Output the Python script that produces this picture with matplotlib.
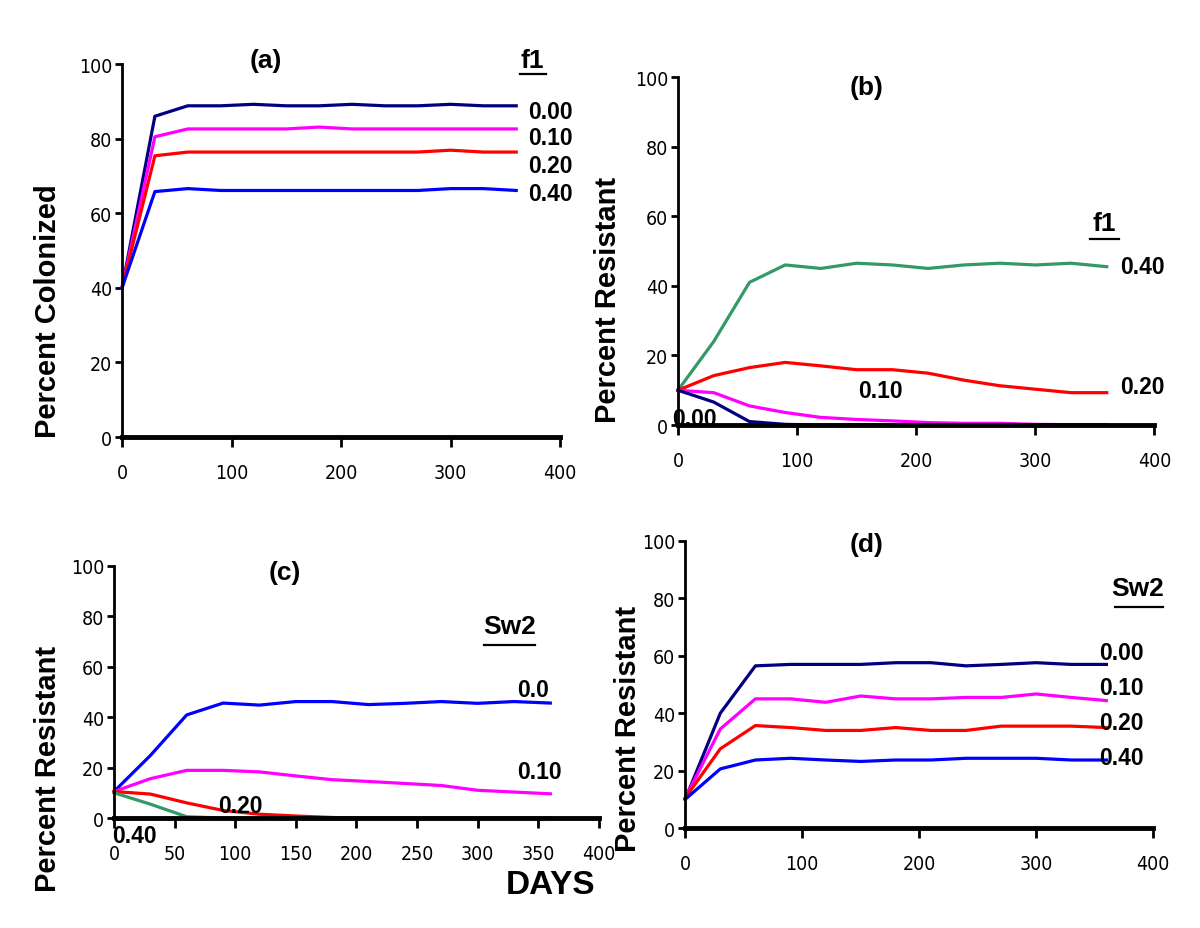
import matplotlib
matplotlib.use("Agg")
import matplotlib.pyplot as plt

plt.rcParams['font.family'] = ['Liberation Sans', 'DejaVu Sans']

NAVY = '#000080'
MAGENTA = '#FF00FF'
RED = '#FF0000'
BLUE = '#0000FF'
GREEN = '#339966'

days = [0, 30, 60, 90, 120, 150, 180, 210, 240, 270, 300, 330, 360]

# (a) percent colonized, by f1
a_f1_000 = [40, 86, 88.8, 88.8, 89.2, 88.8, 88.8, 89.2, 88.8, 88.8, 89.2, 88.8, 88.8]
a_f1_010 = [40, 80.5, 82.6, 82.6, 82.6, 82.6, 83.1, 82.6, 82.6, 82.6, 82.6, 82.6, 82.6]
a_f1_020 = [40, 75.4, 76.4, 76.4, 76.4, 76.4, 76.4, 76.4, 76.4, 76.4, 76.9, 76.4, 76.4]
a_f1_040 = [40, 65.8, 66.6, 66.1, 66.1, 66.1, 66.1, 66.1, 66.1, 66.1, 66.6, 66.6, 66.1]

# (b) percent resistant, by f1
b_f1_040 = [10, 24, 41, 46, 45, 46.5, 46, 45, 46, 46.5, 46, 46.5, 45.5]
b_f1_020 = [10, 14.2, 16.5, 18, 17, 15.9, 15.9, 14.9, 12.9, 11.3, 10.3, 9.3, 9.3]
b_f1_010 = [10, 9.3, 5.5, 3.6, 2.2, 1.6, 1.2, 0.7, 0.5, 0.5, 0.2, 0.1, 0]
b_f1_000 = [10, 6.6, 1, 0.2, 0, 0, 0, 0, 0, 0, 0, 0, 0]

# (c) percent resistant, by Sw2
c_sw2_00 = [10.5, 24.8, 40.9, 45.6, 44.8, 46.2, 46.2, 45, 45.5, 46.2, 45.5, 46.2, 45.6]
c_sw2_010 = [10.5, 15.6, 18.9, 18.9, 18.3, 16.7, 15.2, 14.5, 13.7, 12.9, 11, 10.3, 9.6]
c_sw2_020 = [10.5, 9.5, 6, 3, 1.5, 0.8, 0.2, 0, 0, 0, 0, 0, 0]
c_sw2_040 = [10, 5.5, 0.5, 0, 0, 0, 0, 0, 0, 0, 0, 0, 0]

# (d) percent resistant, by Sw2
d_sw2_000 = [10, 40, 56.5, 57, 57, 57, 57.6, 57.6, 56.5, 57, 57.6, 57, 57]
d_sw2_010 = [10.5, 34.5, 45, 45, 43.8, 46, 45, 45, 45.5, 45.5, 46.7, 45.5, 44.4]
d_sw2_020 = [10.5, 27.6, 35.7, 35, 34, 34, 35, 34, 34, 35.5, 35.5, 35.5, 35]
d_sw2_040 = [10, 20.6, 23.7, 24.3, 23.7, 23.2, 23.7, 23.7, 24.3, 24.3, 24.3, 23.7, 23.7]

LW = 2.3
VAL = 16.5     # size of the 0.00 / 0.10 ... labels
HEAD = 19      # (a), f1, Sw2
YLAB = 21


def style_axes(ax, xticks):
    ax.set_xlim(0, 400)
    ax.set_ylim(0, 100)
    ax.set_xticks(xticks)
    ax.set_yticks([0, 20, 40, 60, 80, 100])
    for s in ['top', 'right']:
        ax.spines[s].set_visible(False)
    ax.spines['left'].set_linewidth(2)
    ax.spines['bottom'].set_linewidth(3.5)
    ax.tick_params(axis='y', direction='out', length=5, width=2, pad=2)
    ax.tick_params(axis='x', direction='out', length=7, width=2, pad=12)
    for lab in ax.get_xticklabels() + ax.get_yticklabels():
        lab.set_family('DejaVu Sans')
        lab.set_fontstretch('condensed')
        lab.set_fontsize(14)
    ax.patch.set_alpha(0)


fig = plt.figure(figsize=(12, 9.29), dpi=100)

# panel (a)
ax = fig.add_axes([0.1017, 0.5285, 0.365, 0.4015])
for ys, c in [(a_f1_000, NAVY), (a_f1_010, MAGENTA), (a_f1_020, RED), (a_f1_040, BLUE)]:
    ax.plot(days, ys, color=c, lw=LW, clip_on=False)
style_axes(ax, [0, 100, 200, 300, 400])
ax.text(131, 101, '(a)', fontsize=HEAD, fontweight='bold', ha='center', va='center')
ax.text(375, 101, 'f1', fontsize=HEAD, fontweight='bold', ha='center', va='center')
ax.plot([363, 387], [97.3, 97.3], color='black', lw=1.6, clip_on=False)
for v, s in [(87.4, '0.00'), (80.2, '0.10'), (72.8, '0.20'), (65.4, '0.40')]:
    ax.text(371, v, s, fontsize=VAL, fontweight='bold', ha='left', va='center')
fig.text(0.040, 0.665, 'Percent Colonized', rotation=90, fontsize=YLAB,
         fontweight='bold', ha='center', va='center')

# panel (b)
ax = fig.add_axes([0.565, 0.5414, 0.397, 0.3746])
for ys, c in [(b_f1_040, GREEN), (b_f1_020, RED), (b_f1_010, MAGENTA), (b_f1_000, NAVY)]:
    ax.plot(days, ys, color=c, lw=LW, clip_on=False)
style_axes(ax, [0, 100, 200, 300, 400])
ax.text(158, 97, '(b)', fontsize=HEAD, fontweight='bold', ha='center', va='center')
ax.text(358, 58, 'f1', fontsize=HEAD, fontweight='bold', ha='center', va='center')
ax.plot([346, 370], [53.6, 53.6], color='black', lw=1.6, clip_on=False)
ax.text(371, 45.7, '0.40', fontsize=VAL, fontweight='bold', ha='left', va='center')
ax.text(371, 11, '0.20', fontsize=VAL, fontweight='bold', ha='left', va='center')
ax.text(170, 9.8, '0.10', fontsize=VAL, fontweight='bold', ha='center', va='center')
ax.text(14, 1.8, '0.00', fontsize=VAL, fontweight='bold', ha='center', va='center')
fig.text(0.507, 0.677, 'Percent Resistant', rotation=90, fontsize=YLAB,
         fontweight='bold', ha='center', va='center')

# panel (c)
ax = fig.add_axes([0.095, 0.1184, 0.404, 0.2713])
for ys, c in [(c_sw2_00, BLUE), (c_sw2_010, MAGENTA), (c_sw2_020, RED), (c_sw2_040, GREEN)]:
    ax.plot(days, ys, color=c, lw=LW, clip_on=False)
style_axes(ax, [0, 50, 100, 150, 200, 250, 300, 350, 400])
ax.text(141, 97.6, '(c)', fontsize=HEAD, fontweight='bold', ha='center', va='center')
ax.text(326, 76, 'Sw2', fontsize=HEAD, fontweight='bold', ha='center', va='center')
ax.plot([305, 347], [68.5, 68.5], color='black', lw=1.6, clip_on=False)
ax.text(346, 51, '0.0', fontsize=VAL, fontweight='bold', ha='center', va='center')
ax.text(351, 18.3, '0.10', fontsize=VAL, fontweight='bold', ha='center', va='center')
ax.text(104, 4.8, '0.20', fontsize=VAL, fontweight='bold', ha='center', va='center')
ax.text(16.5, -7, '0.40', fontsize=VAL, fontweight='bold', ha='center', va='center')
fig.text(0.040, 0.172, 'Percent Resistant', rotation=90, fontsize=YLAB,
         fontweight='bold', ha='center', va='center')
fig.text(0.459, 0.047, 'DAYS', fontsize=24, fontweight='bold', ha='center', va='center')

# panel (d)
ax = fig.add_axes([0.571, 0.1076, 0.390, 0.309])
for ys, c in [(d_sw2_000, NAVY), (d_sw2_010, MAGENTA), (d_sw2_020, RED), (d_sw2_040, BLUE)]:
    ax.plot(days, ys, color=c, lw=LW, clip_on=False)
style_axes(ax, [0, 100, 200, 300, 400])
ax.text(155, 99, '(d)', fontsize=HEAD, fontweight='bold', ha='center', va='center')
ax.text(387, 83.5, 'Sw2', fontsize=HEAD, fontweight='bold', ha='center', va='center')
ax.plot([367, 408], [77, 77], color='black', lw=1.6, clip_on=False)
for v, s in [(61, '0.00'), (49, '0.10'), (36.8, '0.20'), (24.7, '0.40')]:
    ax.text(354, v, s, fontsize=VAL, fontweight='bold', ha='left', va='center')
fig.text(0.523, 0.215, 'Percent Resistant', rotation=90, fontsize=YLAB,
         fontweight='bold', ha='center', va='center')

fig.savefig('out.png', dpi=100)
